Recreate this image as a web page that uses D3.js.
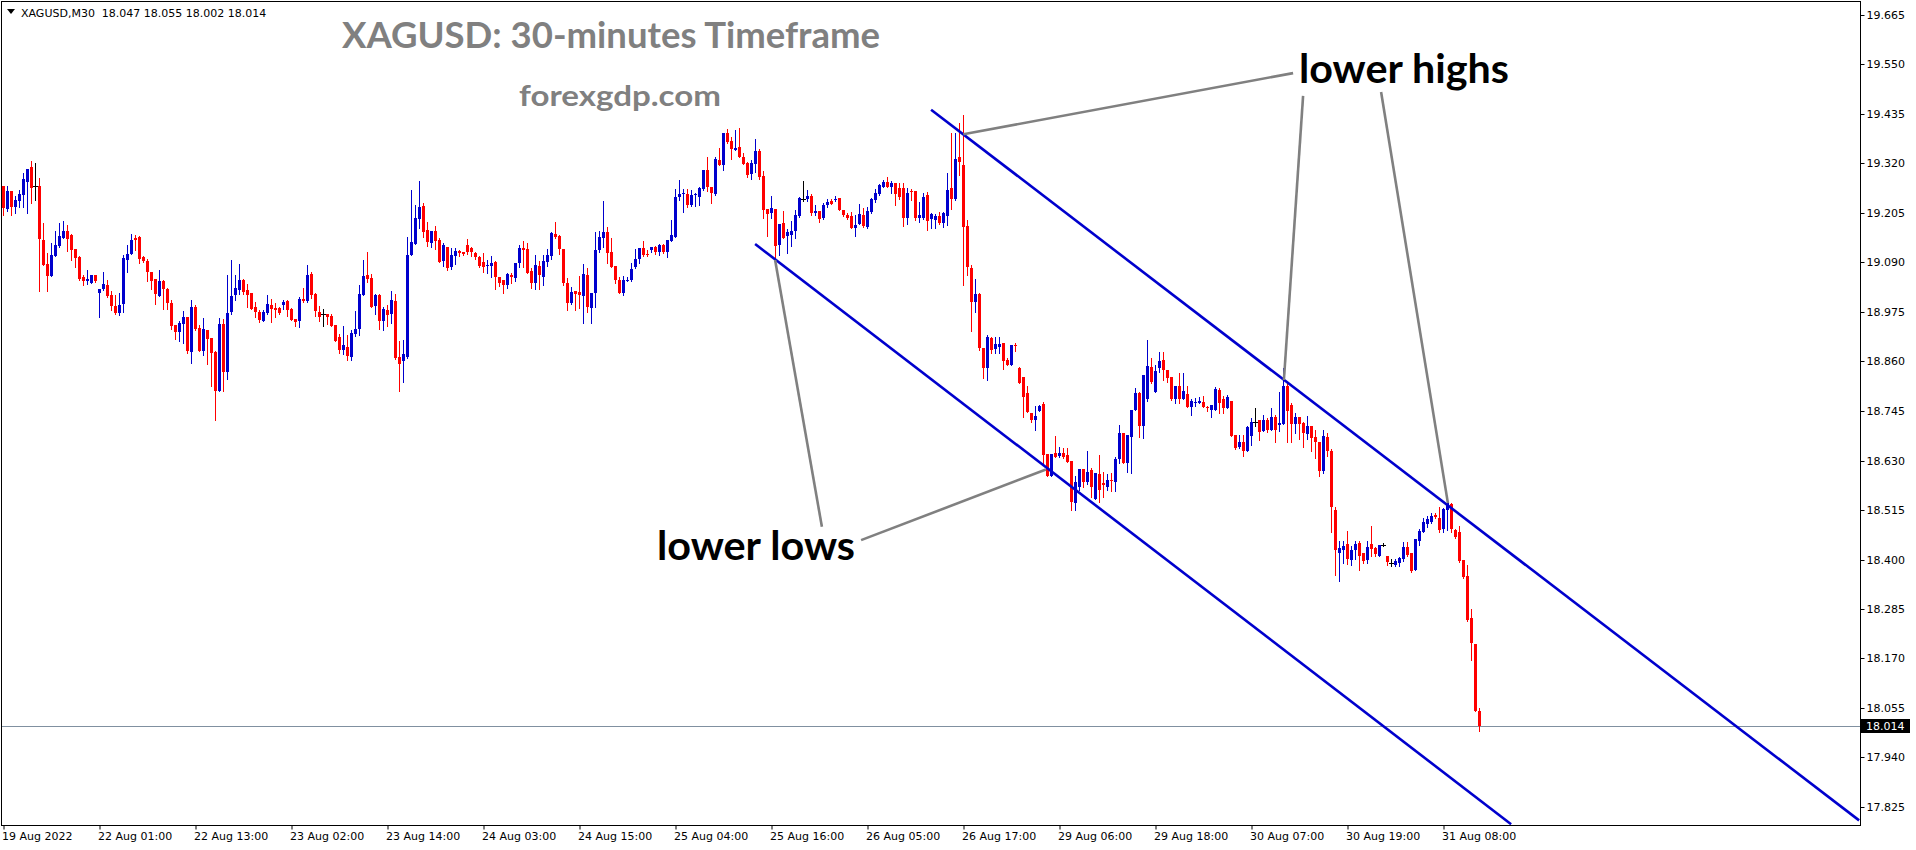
<!DOCTYPE html>
<html><head><meta charset="utf-8">
<script src="https://cdn.jsdelivr.net/npm/d3@7"></script>
<style>
html,body{margin:0;padding:0;background:#fff;overflow:hidden}
svg{display:block}
</style></head><body>
<svg id="c" width="1916" height="850"></svg>
<script>
// ---------- DATA (XAGUSD M30, bars left to right) ----------
const opens=[19.268,19.215,19.255,19.218,19.233,19.247,19.278,19.312,19.267,19.268,19.143,19.087,19.058,19.106,19.129,19.147,19.164,19.154,19.122,19.103,
19.057,19.048,19.043,19.062,19.020,19.029,19.038,19.015,18.989,18.973,18.993,19.096,19.110,19.147,19.150,19.103,19.094,19.068,19.052,19.013,
19.048,19.029,18.996,18.945,18.929,18.948,18.964,18.883,18.987,18.938,18.885,18.934,18.915,18.883,18.792,18.948,18.836,18.976,19.015,19.027,
19.050,19.027,19.020,18.987,18.976,18.955,18.973,18.992,18.985,18.985,18.992,19.001,18.983,18.959,18.955,19.006,19.001,19.064,19.017,18.976,
18.971,18.971,18.966,18.945,18.917,18.887,18.894,18.871,18.925,18.936,19.015,19.062,19.055,18.989,19.015,18.955,18.980,18.971,19.001,18.871,
18.860,18.871,19.108,19.134,19.192,19.222,19.166,19.136,19.164,19.143,19.094,19.127,19.080,19.106,19.117,19.115,19.131,19.124,19.113,19.103,
19.090,19.082,19.082,19.091,19.057,19.050,19.038,19.061,19.053,19.088,19.124,19.122,19.070,19.043,19.082,19.057,19.091,19.104,19.156,19.152,
19.122,19.042,18.997,19.023,19.022,19.013,19.062,18.985,19.018,19.118,19.147,19.161,19.114,19.083,19.050,19.020,19.046,19.050,19.080,19.098,
19.123,19.110,19.118,19.126,19.115,19.130,19.115,19.141,19.150,19.243,19.248,19.248,19.224,19.246,19.243,19.260,19.305,19.265,19.249,19.328,
19.317,19.390,19.373,19.351,19.359,19.336,19.322,19.296,19.318,19.348,19.291,19.215,19.206,19.214,19.130,19.182,19.152,19.154,19.164,19.197,
19.238,19.238,19.245,19.204,19.210,19.193,19.223,19.233,19.235,19.240,19.211,19.200,19.197,19.169,19.180,19.200,19.173,19.208,19.235,19.249,
19.266,19.277,19.266,19.274,19.263,19.263,19.194,19.257,19.257,19.194,19.194,19.247,19.190,19.189,19.197,19.181,19.197,19.262,19.238,19.336,
19.317,19.175,19.078,18.999,19.017,18.891,18.846,18.915,18.888,18.894,18.902,18.864,18.852,18.898,18.844,18.823,18.786,18.740,18.723,18.746,
18.761,18.645,18.593,18.648,18.641,18.648,18.643,18.629,18.531,18.569,18.610,18.581,18.607,18.540,18.599,18.577,18.569,18.585,18.581,18.633,
18.693,18.624,18.685,18.747,18.786,18.710,18.772,18.848,18.790,18.844,18.864,18.840,18.823,18.774,18.802,18.772,18.785,18.755,18.763,18.764,
18.767,18.755,18.747,18.747,18.794,18.772,18.751,18.769,18.689,18.662,18.672,18.651,18.686,18.720,18.724,18.699,18.723,18.701,18.730,18.713,
18.715,18.803,18.759,18.714,18.730,18.716,18.692,18.709,18.684,18.673,18.606,18.685,18.651,18.515,18.416,18.421,18.436,18.399,18.422,18.439,
18.414,18.399,18.436,18.426,18.408,18.434,18.407,18.393,18.388,18.393,18.401,18.430,18.416,18.376,18.444,18.465,18.483,18.486,18.503,18.496,
18.470,18.515,18.529,18.469,18.465,18.399,18.362,18.264,18.204,18.047];
const highs=[19.268,19.268,19.257,19.245,19.259,19.297,19.308,19.326,19.322,19.287,19.182,19.113,19.136,19.164,19.182,19.187,19.178,19.157,19.122,19.106,
19.062,19.073,19.062,19.062,19.029,19.068,19.050,19.024,19.015,19.020,19.108,19.131,19.157,19.154,19.152,19.106,19.099,19.068,19.052,19.073,
19.050,19.031,19.003,18.945,18.955,18.978,18.964,19.003,18.992,18.945,18.962,18.934,18.915,18.885,18.962,18.959,19.062,19.096,19.062,19.087,
19.052,19.041,19.020,18.999,18.980,18.980,19.015,19.006,18.996,18.987,19.003,19.003,18.985,18.959,19.010,19.031,19.085,19.068,19.020,18.989,
18.983,18.971,18.971,18.945,18.925,18.943,18.922,18.934,18.978,19.038,19.096,19.115,19.064,19.017,19.017,18.987,18.992,19.024,19.017,18.908,
18.910,19.150,19.259,19.224,19.280,19.229,19.185,19.164,19.175,19.147,19.136,19.127,19.124,19.124,19.120,19.115,19.145,19.127,19.115,19.106,
19.111,19.096,19.105,19.093,19.057,19.050,19.066,19.065,19.088,19.131,19.140,19.135,19.077,19.107,19.093,19.108,19.121,19.162,19.184,19.155,
19.122,19.053,19.034,19.024,19.059,19.087,19.077,19.020,19.160,19.163,19.233,19.173,19.147,19.083,19.057,19.059,19.057,19.088,19.122,19.123,
19.140,19.119,19.127,19.128,19.132,19.132,19.142,19.189,19.260,19.282,19.260,19.260,19.258,19.251,19.266,19.306,19.336,19.265,19.334,19.355,
19.390,19.399,19.381,19.398,19.402,19.345,19.324,19.328,19.377,19.354,19.303,19.215,19.245,19.214,19.180,19.210,19.167,19.187,19.212,19.243,
19.280,19.258,19.248,19.223,19.210,19.228,19.238,19.238,19.244,19.241,19.211,19.206,19.207,19.200,19.226,19.217,19.218,19.239,19.260,19.272,
19.282,19.288,19.280,19.274,19.274,19.274,19.262,19.260,19.257,19.231,19.251,19.254,19.204,19.203,19.208,19.208,19.297,19.392,19.392,19.413,
19.433,19.189,19.085,19.051,19.020,18.891,18.922,18.918,18.916,18.916,18.902,18.867,18.898,18.904,18.848,18.823,18.803,18.740,18.757,18.759,
18.767,18.645,18.645,18.687,18.662,18.658,18.658,18.629,18.593,18.610,18.610,18.652,18.612,18.600,18.643,18.604,18.599,18.600,18.639,18.713,
18.693,18.689,18.747,18.798,18.788,18.829,18.911,18.867,18.853,18.883,18.883,18.840,18.823,18.802,18.834,18.834,18.803,18.772,18.775,18.778,
18.780,18.757,18.759,18.800,18.798,18.780,18.782,18.769,18.689,18.689,18.689,18.710,18.728,18.751,18.724,18.736,18.728,18.751,18.736,18.790,
18.844,18.813,18.764,18.740,18.730,18.720,18.733,18.709,18.702,18.673,18.702,18.693,18.656,18.523,18.444,18.444,18.466,18.431,18.442,18.442,
18.416,18.442,18.478,18.428,18.434,18.439,18.408,18.401,18.401,18.405,18.441,18.441,18.416,18.447,18.470,18.496,18.500,18.507,18.507,18.521,
18.519,18.540,18.531,18.470,18.478,18.399,18.387,18.285,18.204,18.055];
const lows=[19.201,19.209,19.201,19.206,19.218,19.220,19.206,19.229,19.236,19.023,19.085,19.023,19.058,19.106,19.127,19.146,19.116,19.095,19.080,19.050,
19.037,19.041,19.043,19.045,18.964,19.027,19.010,18.980,18.971,18.969,18.976,19.068,19.110,19.120,19.089,19.092,19.048,19.029,18.994,19.013,
18.983,18.983,18.936,18.913,18.908,18.904,18.880,18.857,18.934,18.885,18.876,18.855,18.804,18.725,18.792,18.792,18.820,18.971,19.003,19.017,
19.017,18.987,18.983,18.964,18.952,18.955,18.971,18.952,18.964,18.971,18.983,18.966,18.957,18.943,18.941,18.999,18.999,19.008,18.966,18.955,
18.943,18.948,18.943,18.908,18.880,18.878,18.864,18.864,18.920,18.922,19.015,19.045,18.987,18.971,18.936,18.934,18.943,18.950,18.866,18.792,
18.813,18.869,19.108,19.134,19.171,19.150,19.129,19.127,19.122,19.092,19.082,19.073,19.075,19.087,19.106,19.108,19.110,19.106,19.099,19.080,
19.068,19.065,19.057,19.029,19.036,19.019,19.030,19.042,19.046,19.080,19.080,19.066,19.030,19.029,19.029,19.038,19.082,19.098,19.146,19.110,
19.037,18.980,18.994,18.980,18.984,18.950,18.976,18.950,18.986,19.115,19.125,19.088,19.079,19.042,19.019,19.015,19.046,19.047,19.077,19.088,
19.104,19.104,19.115,19.110,19.108,19.111,19.102,19.139,19.150,19.235,19.208,19.220,19.221,19.221,19.224,19.258,19.256,19.229,19.246,19.317,
19.306,19.368,19.331,19.351,19.334,19.319,19.288,19.284,19.301,19.283,19.193,19.152,19.193,19.100,19.108,19.148,19.111,19.128,19.148,19.195,
19.234,19.233,19.200,19.200,19.184,19.190,19.220,19.226,19.233,19.211,19.197,19.190,19.169,19.152,19.180,19.173,19.171,19.204,19.231,19.247,
19.265,19.265,19.251,19.224,19.238,19.175,19.180,19.235,19.189,19.184,19.192,19.166,19.170,19.169,19.180,19.173,19.177,19.214,19.235,19.293,
19.038,19.060,18.930,18.976,18.887,18.822,18.817,18.879,18.879,18.880,18.843,18.852,18.852,18.885,18.811,18.732,18.743,18.720,18.701,18.744,
18.624,18.593,18.593,18.638,18.639,18.635,18.626,18.515,18.515,18.562,18.569,18.575,18.545,18.540,18.534,18.546,18.562,18.560,18.560,18.624,
18.624,18.604,18.602,18.747,18.685,18.682,18.769,18.809,18.790,18.836,18.817,18.813,18.771,18.764,18.764,18.772,18.755,18.736,18.757,18.763,
18.754,18.746,18.732,18.747,18.740,18.740,18.751,18.686,18.656,18.658,18.641,18.651,18.666,18.709,18.678,18.699,18.697,18.701,18.674,18.699,
18.715,18.674,18.674,18.693,18.681,18.662,18.681,18.651,18.635,18.594,18.600,18.640,18.465,18.364,18.349,18.391,18.390,18.388,18.401,18.376,
18.391,18.391,18.407,18.407,18.408,18.432,18.387,18.384,18.385,18.385,18.397,18.408,18.372,18.376,18.434,18.463,18.476,18.484,18.496,18.465,
18.465,18.469,18.465,18.449,18.395,18.356,18.256,18.167,18.047,18.002];
const closes=[19.216,19.257,19.218,19.236,19.250,19.284,19.308,19.264,19.267,19.144,19.085,19.059,19.108,19.131,19.152,19.164,19.145,19.120,19.101,19.052,
19.048,19.052,19.062,19.048,19.029,19.041,19.013,18.989,18.973,18.992,19.101,19.110,19.143,19.143,19.099,19.094,19.068,19.048,19.017,19.048,
19.029,18.996,18.943,18.929,18.950,18.964,18.885,18.987,18.936,18.885,18.936,18.913,18.880,18.792,18.948,18.836,18.973,19.013,19.031,19.050,
19.022,19.015,18.983,18.976,18.957,18.976,18.994,18.983,18.980,18.973,18.999,18.980,18.957,18.952,19.006,19.001,19.062,19.015,18.978,18.964,
18.971,18.964,18.943,18.908,18.887,18.899,18.873,18.927,18.936,19.017,19.059,19.052,18.987,19.015,18.955,18.983,18.969,19.003,18.869,18.855,
18.878,19.108,19.138,19.194,19.219,19.161,19.138,19.164,19.140,19.092,19.131,19.078,19.108,19.117,19.113,19.110,19.115,19.115,19.103,19.082,
19.080,19.084,19.088,19.057,19.043,19.038,19.063,19.056,19.088,19.123,19.118,19.066,19.043,19.085,19.060,19.094,19.107,19.158,19.150,19.121,
19.042,18.995,19.021,19.017,19.015,19.064,18.986,19.018,19.119,19.150,19.162,19.111,19.080,19.050,19.020,19.050,19.050,19.075,19.098,19.123,
19.107,19.107,19.126,19.115,19.130,19.115,19.142,19.154,19.243,19.248,19.251,19.223,19.247,19.248,19.263,19.305,19.265,19.252,19.331,19.317,
19.390,19.371,19.353,19.355,19.334,19.319,19.294,19.320,19.349,19.289,19.212,19.203,19.217,19.128,19.180,19.148,19.162,19.163,19.200,19.241,
19.238,19.245,19.206,19.210,19.192,19.223,19.231,19.227,19.238,19.212,19.200,19.193,19.170,19.176,19.202,19.175,19.210,19.238,19.251,19.270,
19.276,19.266,19.274,19.248,19.243,19.193,19.251,19.254,19.194,19.200,19.243,19.187,19.203,19.199,19.181,19.206,19.259,19.238,19.330,19.324,
19.172,19.080,18.999,19.017,18.892,18.846,18.918,18.887,18.901,18.901,18.860,18.852,18.898,18.895,18.811,18.778,18.743,18.723,18.733,18.757,
18.643,18.593,18.645,18.639,18.648,18.637,18.626,18.534,18.581,18.610,18.581,18.604,18.568,18.600,18.562,18.573,18.585,18.583,18.634,18.693,
18.624,18.689,18.747,18.786,18.710,18.829,18.850,18.813,18.838,18.860,18.840,18.821,18.772,18.802,18.772,18.792,18.755,18.769,18.767,18.769,
18.755,18.751,18.759,18.795,18.763,18.751,18.778,18.687,18.660,18.674,18.651,18.707,18.720,18.720,18.697,18.723,18.701,18.732,18.701,18.716,
18.802,18.745,18.714,18.730,18.714,18.693,18.709,18.682,18.672,18.606,18.687,18.651,18.521,18.422,18.426,18.432,18.401,18.422,18.436,18.408,
18.397,18.430,18.424,18.413,18.434,18.434,18.395,18.393,18.397,18.403,18.430,18.411,18.374,18.447,18.467,18.486,18.494,18.501,18.498,18.469,
18.517,18.531,18.470,18.453,18.397,18.359,18.260,18.207,18.047,18.014];

const timeLabels=["19 Aug 2022","22 Aug 01:00","22 Aug 13:00","23 Aug 02:00","23 Aug 14:00","24 Aug 03:00","24 Aug 15:00","25 Aug 04:00",
"25 Aug 16:00","26 Aug 05:00","26 Aug 17:00","29 Aug 06:00","29 Aug 18:00","30 Aug 07:00","30 Aug 19:00","31 Aug 08:00"];
const timeTickBars=[0,24,48,72,96,120,144,168,192,216,240,264,288,312,336,360];
const priceTicks=[19.665,19.550,19.435,19.320,19.205,19.090,18.975,18.860,18.745,18.630,18.515,18.400,18.285,18.170,18.055,17.940,17.825];
const lastPrice=18.014;
const headerText="XAGUSD,M30  18.047 18.055 18.002 18.014";
const titleText="XAGUSD: 30-minutes Timeframe";
const siteText="forexgdp.com";
// channel lines: [barIndex, price] endpoints
const channelUpper=[[231.9,19.445],[463.9,17.794]];
const channelLower=[[187.9,19.133],[376.9,17.785]];
// pointer lines from labels to the swing points
const pointerHighs=[[[239.95,19.388],[322.4,19.530]],[[324.9,19.477],[320.1,18.817]],[[344.4,19.486],[361.1,18.531]]];
const pointerLows=[[[204.6,18.476],[192.9,19.096]],[[214.4,18.445],[260.6,18.609]]];

// ---------- DRAW ----------
const W=1916,H=850, L=2,T=2,R=1860,B=825;
const svg=d3.select("#c");
const x=d3.scaleLinear().domain([0,369]).range([3.5,3.5+4*369]);
const y=d3.scaleLinear().domain([17.825,19.665]).range([807,15]);

svg.append("rect").attr("width",W).attr("height",H).attr("fill","#fff");
svg.append("defs").append("clipPath").attr("id","plot")
  .append("rect").attr("x",L).attr("y",T).attr("width",R-L).attr("height",B-T);
const g=svg.append("g").attr("clip-path","url(#plot)");

// current price line
g.append("line").attr("x1",L).attr("x2",R)
 .attr("y1",Math.round(y(lastPrice))+0.5).attr("y2",Math.round(y(lastPrice))+0.5)
 .attr("stroke","#8090a0").attr("stroke-width",1);

// candles
const bars=d3.range(opens.length).map(i=>({i,o:opens[i],h:highs[i],l:lows[i],c:closes[i]}));
const col=d=>d.c>d.o?"#0000cd":(d.c<d.o?"#ff0000":"#000000");
const cg=g.append("g");
cg.selectAll("rect.w").data(bars).join("rect").attr("class","w")
  .attr("x",d=>x(d.i)-0.5).attr("width",1)
  .attr("y",d=>Math.round(y(d.h)))
  .attr("height",d=>Math.max(1,Math.round(y(d.l))-Math.round(y(d.h))+1))
  .attr("fill",col);
cg.selectAll("rect.b").data(bars).join("rect").attr("class","b")
  .attr("x",d=>d.o===d.c?x(d.i)-2.5:x(d.i)-1.5).attr("width",d=>d.o===d.c?5:3)
  .attr("y",d=>Math.round(y(Math.max(d.o,d.c))))
  .attr("height",d=>Math.max(1,Math.round(y(Math.min(d.o,d.c)))-Math.round(y(Math.max(d.o,d.c)))))
  .attr("fill",col);

// channel lines
const ln=d3.line().x(d=>x(d[0])).y(d=>y(d[1]));
[channelUpper,channelLower].forEach(c=>{
  g.append("path").attr("d",ln(c)).attr("fill","none").attr("stroke","#0000cd").attr("stroke-width",2.6);
});
// pointer lines
pointerHighs.concat(pointerLows).forEach(c=>{
  g.append("path").attr("d",ln(c)).attr("fill","none").attr("stroke","#808080").attr("stroke-width",2.6);
});

// frame
svg.append("rect").attr("x",L-0.5).attr("y",T-0.5).attr("width",R-L+1).attr("height",B-T+1)
  .attr("fill","none").attr("stroke","#000").attr("stroke-width",1);

// axes
const axFont="DejaVu Sans";
const ay=svg.append("g").attr("transform",`translate(${R+0.5},0)`)
  .call(d3.axisRight(y).tickValues(priceTicks).tickFormat(d3.format(".3f")).tickSize(4).tickPadding(2));
ay.select(".domain").remove();
ay.selectAll(".tick").attr("transform",d=>`translate(0,${Math.round(y(d))+0.5})`);
ay.selectAll("text").attr("font-family",axFont).attr("font-size",11).attr("fill","#000");
ay.selectAll("line").attr("stroke","#000");

const ax=svg.append("g").attr("transform",`translate(0,${B+0.5})`)
  .call(d3.axisBottom(x).tickValues(timeTickBars).tickFormat((d,i)=>timeLabels[i]).tickSize(4).tickPadding(3));
ax.select(".domain").remove();
ax.selectAll("text").attr("font-family",axFont).attr("font-size",11).attr("fill","#000")
  .attr("text-anchor","start").attr("dx",-2);
ax.selectAll("line").attr("stroke","#000");

// last price label
const ly=Math.round(y(lastPrice));
svg.append("rect").attr("x",R+1).attr("y",ly-7).attr("width",49).attr("height",14).attr("fill","#000");
svg.append("text").attr("x",R+6).attr("y",ly+4).attr("font-family",axFont).attr("font-size",11)
  .attr("fill","#fff").text(d3.format(".3f")(lastPrice));

// header
svg.append("path").attr("d","M7,9 L15,9 L11,14 Z").attr("fill","#000");
svg.append("text").attr("x",21).attr("y",17).attr("font-family",axFont).attr("font-size",11)
  .attr("fill","#000").attr("xml:space","preserve").style("white-space","pre").text(headerText);

// title texts
const tf="Lato, 'Open Sans', sans-serif";
function label(txt,x0,base,size,len,fill){
  svg.append("text").attr("x",x0).attr("y",base).attr("font-family",tf).attr("font-weight",700)
   .attr("font-size",size).attr("fill",fill).attr("textLength",len).attr("lengthAdjust","spacingAndGlyphs").text(txt);
}
label(titleText,342,48,36,538,"#808080");
label(siteText,519,106,28,202,"#808080");
label("lower highs",1299,83,40,210,"#000");
label("lower lows",657,560,40,198,"#000");
</script>
</body></html>
